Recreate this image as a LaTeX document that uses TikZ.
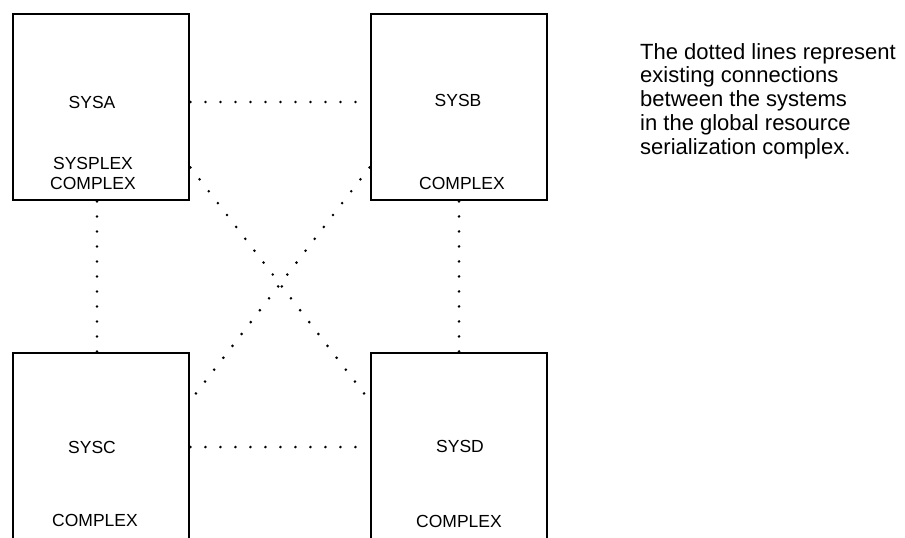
\documentclass[tikz,border=0pt]{standalone}
\usepackage{fontspec}
\setmainfont{Liberation Sans}
\usetikzlibrary{calc}

\tikzset{
  sysbox/.style={draw, line width=2.9pt, minimum width=176, minimum height=186, inner sep=0},
  boxtext/.style={align=center, inner sep=0, font=\fontsize{17.5}{20}\selectfont},
  notetext/.style={align=left, inner sep=0, font=\fontsize{22}{23.75}\selectfont},
  dotline/.style={line width=2.9pt, line cap=round, dash pattern=on 0pt off 15pt}
}

\begin{document}
\begin{tikzpicture}[x=1pt,y=-1pt]
\useasboundingbox (0,0) rectangle (905,538);
%the four systems
\node[sysbox] (sysa) at (101,107) {};
\node[sysbox] (sysb) at (459,107) {};
\node[sysbox, minimum height=192] (sysc) at (101,449) {};
\node[sysbox, minimum height=192] (sysd) at (459,449) {};

%names inside the boxes
\node[boxtext] (sysa-name) at (92,102) {SYSA};
\node[boxtext] (sysa-cplx) at (93,173) {SYSPLEX\\COMPLEX};
\node[boxtext] (sysb-name) at (458,100) {SYSB};
\node[boxtext] (sysb-cplx) at (462,183) {COMPLEX};
\node[boxtext] (sysc-name) at (92,447) {SYSC};
\node[boxtext] (sysc-cplx) at (95,520) {COMPLEX};
\node[boxtext] (sysd-name) at (460,446) {SYSD};
\node[boxtext] (sysd-cplx) at (459,521) {COMPLEX};

%existing connections
\draw[dotline] (sysa.east |- sysa-name) -- (sysb.west |- sysa-name);
\draw[dotline] (sysc.east |- sysc-name) -- (sysd.west |- sysc-name);
\draw[dotline] ($(sysa.south)+(-4,0)$) -- ($(sysc.north)+(-4,0)$);
\draw[dotline] (sysb.south) -- (sysd.north);
\draw[dotline] ($(sysa.south east)+(0,-34)$) -- ($(sysd.north west)+(0,49)$);
\draw[dotline] ($(sysb.south west)+(0,-34)$) -- ($(sysc.north east)+(0,49)$);

%legend
\node[notetext, anchor=north west] (note) at (640,43) {The dotted lines represent\\existing connections\\between the systems\\in the global resource\\serialization complex.};
\end{tikzpicture}
\end{document}
